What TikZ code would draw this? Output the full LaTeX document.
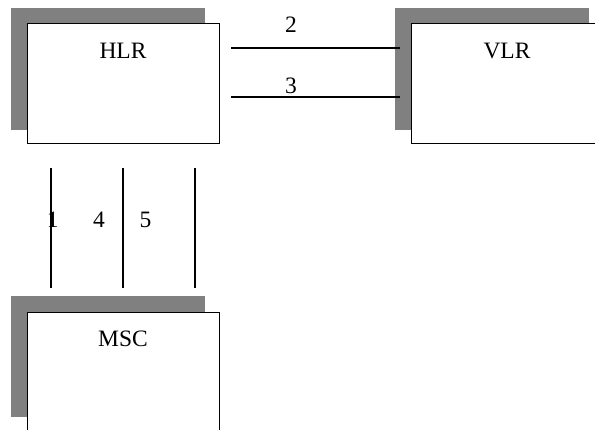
\documentclass[tikz,border=0pt]{standalone}
\usepackage{fontspec}
\setmainfont{Liberation Serif}
\definecolor{shadowgray}{HTML}{808080}
\begin{document}
\begin{tikzpicture}[x=1pt,y=-1pt,
  shadowbox/.style={fill=shadowgray,draw=none},
  mainbox/.style={draw=black,fill=white,line width=1pt},
  conn/.style={draw=black,line width=2pt},
  lbl/.style={font=\fontsize{23.5}{28}\selectfont,inner sep=0pt,anchor=base}]
\useasboundingbox (0,0) rectangle (595,430);
\clip (0,0) rectangle (595,430);
% shadows
\fill[shadowgray] (11,8) rectangle (205,130);
\fill[shadowgray] (395,8) rectangle (589,130);
\fill[shadowgray] (11,296) rectangle (205,417);
% boxes
\draw[mainbox] (27,24) rectangle (219,144);
\draw[mainbox] (411,24) rectangle (603,144);
\draw[mainbox] (27,313) rectangle (219,436);
\node[lbl] (hlr) at (123,58.3) {HLR};
\node[lbl] (vlr) at (507,58.3) {VLR};
\node[lbl] (msc) at (123,347) {MSC};
% connector ends
\coordinate (a2) at (231,48);
\coordinate (b2) at (400,48);
\coordinate (a3) at (231,97);
\coordinate (b3) at (400,97);
\coordinate (t1) at (51,168);
\coordinate (m1) at (51,288);
\coordinate (t4) at (123,168);
\coordinate (m4) at (123,288);
\coordinate (t5) at (195,168);
\coordinate (m5) at (195,288);
\draw[conn] (a2) -- (b2);
\draw[conn] (a3) -- (b3);
\draw[conn] (t1) -- (m1);
\draw[conn] (t4) -- (m4);
\draw[conn] (t5) -- (m5);
% labels
\node[lbl] (l2) at (291,32.7) {2};
\node[lbl] (l3) at (291,93.3) {3};
\node[lbl] (l1) at (52.7,227.3) {1};
\node[lbl] (l4) at (99,227.3) {4};
\node[lbl] (l5) at (145.5,227.3) {5};
\end{tikzpicture}
\end{document}
